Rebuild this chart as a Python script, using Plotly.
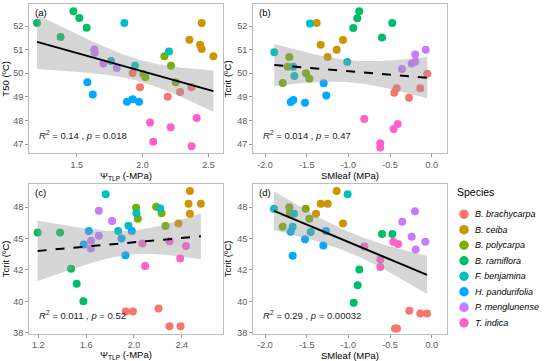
import numpy as np
import plotly.graph_objects as go

species = ["B. brachycarpa", "B. ceiba", "B. polycarpa", "B. ramiflora",
           "F. benjamina", "H. pandurifolia", "P. menglunense", "T. indica"]
colors = ["#F8766D", "#CD9600", "#7CAE00", "#00BE67",
          "#00BFC4", "#00A9FF", "#C77CFF", "#FF61CC"]

# ---- panel (a): Psi_TLP vs T50 ----
psi_a = [[1.925, 1.981, 2.191, 2.285, 2.371],
         [2.449, 2.356, 2.437, 2.449, 2.538],
         [2.166, 2.216, 2.006, 2.022, 2.252],
         [1.199, 1.475, 1.520, 1.576, 1.378],
         [1.862, 2.201, 1.761, 1.943],
         [1.581, 1.622, 1.882, 1.925, 1.973],
         [1.634, 1.637, 1.703, 1.804],
         [2.057, 2.082, 2.214, 2.373, 2.411]]
t50_a = [[50.01, 49.41, 49.01, 49.21, 49.41],
         [52.13, 51.42, 51.21, 51.03, 50.72],
         [50.72, 50.32, 49.97, 49.83, 49.62],
         [52.13, 52.62, 52.34, 51.93, 51.54],
         [52.13, 50.92, 50.52, 50.32],
         [49.62, 49.11, 48.80, 48.90, 48.80],
         [51.01, 50.87, 50.42, 50.23],
         [47.92, 47.11, 47.72, 46.92, 48.11]]

# ---- panel (b): SMleaf vs T50 ----
sm_b = [[-0.053, -0.420, -0.449, -0.137, -0.272],
        [-1.380, -1.332, -1.248, -1.140, -1.064],
        [-1.708, -1.728, -1.788, -1.508, -1.468],
        [-0.869, -0.893, -0.941, -0.473, -0.596],
        [-1.888, -1.460, -1.660, -1.648, -1.013],
        [-1.296, -1.692, -1.660, -1.520, -1.265],
        [-0.197, -0.072, -0.240, -0.197, -0.356],
        [-0.809, -0.408, -0.456, -0.617, -0.617]]
t50_b = [[49.98, 49.37, 49.18, 49.37, 48.97],
         [52.13, 51.21, 50.69, 51.00, 51.41],
         [50.69, 50.28, 49.59, 50.00, 49.77],
         [52.62, 52.33, 51.92, 52.13, 51.51],
         [50.89, 52.11, 50.28, 49.89, 50.48],
         [49.58, 48.79, 48.87, 48.76, 49.06],
         [50.80, 51.00, 50.42, 50.49, 50.18],
         [48.07, 47.86, 47.65, 47.04, 46.86]]

# ---- panel (c): Psi_TLP vs Tcrit ----
psi_c = [[1.932, 1.991, 2.206, 2.298, 2.390],
         [2.468, 2.457, 2.560, 2.468, 2.373],
         [2.018, 2.032, 2.186, 2.231, 2.264],
         [1.194, 1.382, 1.474, 1.521, 1.577],
         [1.764, 2.021, 2.220, 1.868, 1.954],
         [1.622, 1.580, 1.896, 1.982, 1.929],
         [1.706, 1.817, 1.641, 1.639, 1.706],
         [2.071, 2.094, 2.298, 2.435, 2.387]]
tcrit_c = [[39.70, 39.70, 39.94, 38.53, 38.53],
           [49.27, 48.27, 48.27, 47.47, 46.70],
           [47.95, 47.07, 48.03, 47.50, 46.49],
           [45.98, 45.98, 43.09, 41.90, 40.52],
           [49.01, 47.50, 47.89, 46.09, 46.51],
           [46.09, 45.03, 45.51, 46.09, 44.18],
           [47.71, 46.89, 45.32, 44.71, 45.72],
           [45.11, 43.31, 45.29, 44.90, 43.92]]

# ---- panel (d): SMleaf vs Tcrit ----
sm_d = [[-0.268, -0.136, -0.056, -0.440, -0.416],
        [-1.140, -1.332, -1.248, -1.388, -1.064],
        [-1.708, -1.512, -1.468, -1.788, -1.700],
        [-0.596, -0.472, -0.868, -0.888, -0.936],
        [-1.008, -1.892, -1.652, -1.452, -1.668],
        [-1.692, -1.520, -1.300, -1.268, -1.668],
        [-0.200, -0.352, -0.240, -0.076, -0.192],
        [-0.808, -0.460, -0.404, -0.616, -0.616]]
tcrit_d = [[39.75, 39.54, 39.54, 38.34, 38.34],
           [49.27, 48.27, 48.27, 47.47, 46.70],
           [47.98, 47.86, 47.07, 46.43, 47.55],
           [45.85, 45.85, 43.04, 41.79, 40.39],
           [49.01, 47.87, 47.47, 46.01, 46.43],
           [46.04, 45.45, 44.95, 46.09, 44.13],
           [47.66, 46.83, 45.64, 45.24, 44.63],
           [44.87, 45.24, 45.06, 43.84, 43.23]]

tcrit_tickvals = [38, 40.5, 43, 45.5, 48]
tcrit_ticktext = ["38", "40", "42", "45", "48"]

stats_text = ["<i>R</i><sup>2</sup> = 0.14 , <i>p</i> = 0.018",
              "<i>R</i><sup>2</sup> = 0.014 , <i>p</i> = 0.47",
              "<i>R</i><sup>2</sup> = 0.011 , <i>p</i> = 0.52",
              "<i>R</i><sup>2</sup> = 0.29 , <i>p</i> = 0.00032"]
panel_tags = ["(a)", "(b)", "(c)", "(d)"]
line_dash = ["solid", "dash", "dash", "solid"]


def fit_band(xl, yl, n=100):
    x = np.concatenate([np.asarray(v, float) for v in xl])
    y = np.concatenate([np.asarray(v, float) for v in yl])
    b, a = np.polyfit(x, y, 1)
    xs = np.linspace(x.min(), x.max(), n)
    yhat = a + b * xs
    df = len(x) - 2
    s = np.sqrt(np.sum((y - (a + b * x)) ** 2) / df)
    sxx = np.sum((x - x.mean()) ** 2)
    z = 1.959964
    t = z + (z ** 3 + z) / (4 * df) + (5 * z ** 5 + 16 * z ** 3 + 3 * z) / (96 * df ** 2)
    se = s * np.sqrt(1.0 / len(x) + (xs - x.mean()) ** 2 / sxx)
    return xs, yhat, yhat - t * se, yhat + t * se


panels = [(psi_a, t50_a, "x", "y"), (sm_b, t50_b, "x2", "y2"),
          (psi_c, tcrit_c, "x3", "y3"), (sm_d, tcrit_d, "x4", "y4")]

fig = go.Figure()
for pi, (xs_l, ys_l, xa, ya) in enumerate(panels):
    for si, name in enumerate(species):
        fig.add_trace(go.Scatter(
            x=xs_l[si], y=ys_l[si], mode="markers", name=name,
            legendgroup=name, showlegend=False,
            marker=dict(color=colors[si], size=8, line=dict(width=0)),
            xaxis=xa, yaxis=ya, hoverinfo="skip"))
    xs, yh, lo, hi = fit_band(xs_l, ys_l)
    fig.add_trace(go.Scatter(
        x=np.concatenate([xs, xs[::-1]]), y=np.concatenate([hi, lo[::-1]]),
        fill="toself", fillcolor="rgba(153,153,153,0.4)", line=dict(width=0),
        mode="lines", showlegend=False, xaxis=xa, yaxis=ya, hoverinfo="skip"))
    fig.add_trace(go.Scatter(
        x=xs, y=yh, mode="lines", showlegend=False,
        line=dict(color="black", width=2, dash=line_dash[pi]),
        xaxis=xa, yaxis=ya, hoverinfo="skip"))

# species key drawn on its own small category axis (legend look-alike)
for si, name in enumerate(species):
    fig.add_trace(go.Scatter(
        x=[0], y=[name], mode="markers", showlegend=False,
        marker=dict(color=colors[si], size=9.5, line=dict(width=0)),
        xaxis="x5", yaxis="y5", hoverinfo="skip"))

FONT = "Liberation Sans, Arial"
axis_common = dict(showline=True, linecolor="#BDBDBD", linewidth=1, mirror=True,
                   ticks="outside", ticklen=3, tickcolor="#9A9A9A", tickwidth=1,
                   tickfont=dict(size=9, color="#5A5A5A", family=FONT),
                   showgrid=False, zeroline=False, automargin=False)
title_font = dict(size=9.5, color="black", family=FONT)

xd_left = [29 / 550, 223 / 550]
xd_right = [253 / 550, 447 / 550]
yd_top = [1 - 153.3 / 361, 1 - 4.3 / 361]
yd_bot = [1 - 333.5 / 361, 1 - 184.3 / 361]

psi_title = "Ψ<sub>TLP</sub> (-MPa)"
sm_title = "SMleaf (MPa)"

fig.update_layout(
    width=550, height=361, margin=dict(l=0, r=0, t=0, b=0),
    plot_bgcolor="white", paper_bgcolor="white",
    font=dict(family=FONT),
    showlegend=False,
    xaxis=dict(axis_common, domain=xd_left, anchor="y", range=[1.138, 2.611],
               tickvals=[1.5, 2.0, 2.5], ticktext=["1.5", "2.0", "2.5"],
               title=dict(text=psi_title, font=title_font, standoff=2)),
    yaxis=dict(axis_common, domain=yd_top, anchor="x", range=[46.62, 52.917],
               tickvals=[47, 48, 49, 50, 51, 52],
               title=dict(text="T50 (ºC)", font=title_font, standoff=3)),
    xaxis2=dict(axis_common, domain=xd_right, anchor="y2", range=[-2.144, 0.184],
                tickvals=[-2, -1.5, -1, -0.5, 0], ticktext=["-2.0", "-1.5", "-1.0", "-0.5", "0.0"],
                title=dict(text=sm_title, font=title_font, standoff=2)),
    yaxis2=dict(axis_common, domain=yd_top, anchor="x2", range=[46.62, 52.917],
                tickvals=[47, 48, 49, 50, 51, 52],
                title=dict(text="Tcrit (ºC)", font=title_font, standoff=3)),
    xaxis3=dict(axis_common, domain=xd_left, anchor="y3", range=[1.122, 2.745],
                tickvals=[1.2, 1.6, 2.0, 2.4], ticktext=["1.2", "1.6", "2.0", "2.4"],
                title=dict(text=psi_title, font=title_font, standoff=2)),
    yaxis3=dict(axis_common, domain=yd_bot, anchor="x3", range=[37.95, 49.81],
                tickvals=tcrit_tickvals, ticktext=tcrit_ticktext,
                title=dict(text="Tcrit (ºC)", font=title_font, standoff=3)),
    xaxis4=dict(axis_common, domain=xd_right, anchor="y4", range=[-2.144, 0.184],
                tickvals=[-2, -1.5, -1, -0.5, 0], ticktext=["-2.0", "-1.5", "-1.0", "-0.5", "0.0"],
                title=dict(text=sm_title, font=title_font, standoff=2)),
    yaxis4=dict(axis_common, domain=yd_bot, anchor="x4", range=[37.95, 49.81],
                tickvals=tcrit_tickvals, ticktext=tcrit_ticktext,
                title=dict(text="Tcrit (ºC)", font=title_font, standoff=3)),
    xaxis5=dict(domain=[454 / 550, 474 / 550], anchor="y5", range=[-1, 1],
                visible=False, fixedrange=True),
    yaxis5=dict(domain=[1 - 335.4 / 361, 1 - 201.6 / 361], anchor="x5",
                type="category", categoryorder="array", categoryarray=species,
                autorange="reversed", side="right", showline=False, ticks="",
                showgrid=False, zeroline=False, automargin=False, fixedrange=True,
                tickvals=species, ticktext=["<i>" + s + "</i>" for s in species],
                tickfont=dict(size=9, color="black", family=FONT)),
)

axis_refs = [("x", "y"), ("x2", "y2"), ("x3", "y3"), ("x4", "y4")]
for i, (xr, yr) in enumerate(axis_refs):
    fig.add_annotation(text=panel_tags[i], xref=xr + " domain", yref=yr + " domain",
                       x=0.02, y=0.945, xanchor="left", yanchor="middle", showarrow=False,
                       font=dict(size=9.5, color="black", family=FONT))
    fig.add_annotation(text=stats_text[i], xref=xr + " domain", yref=yr + " domain",
                       x=0.04, y=0.125, xanchor="left", yanchor="middle", showarrow=False,
                       font=dict(size=9.5, color="#222", family=FONT))

fig.add_annotation(text="Species", xref="paper", yref="paper",
                   x=455 / 550, y=1 - 192 / 361, xanchor="left", yanchor="middle",
                   showarrow=False, font=dict(size=10.5, color="black", family=FONT))

fig.write_html("out.html", config={"displayModeBar": False},
               post_script="document.body.style.margin='0';document.body.style.overflow='hidden';")
